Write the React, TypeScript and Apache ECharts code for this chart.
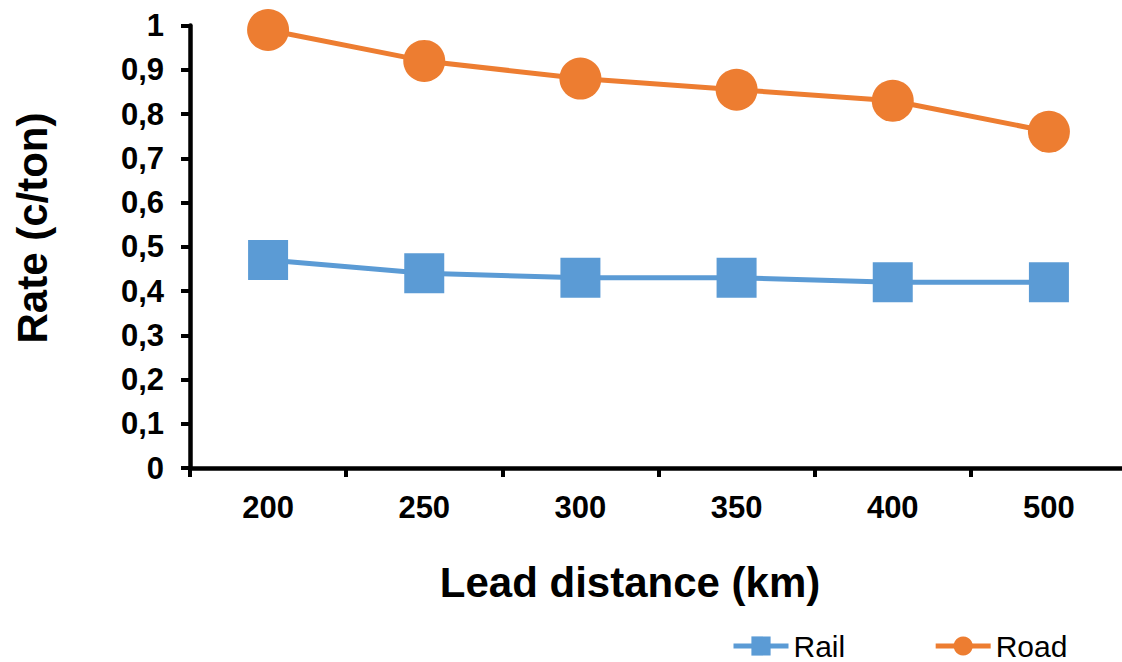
import React, { useEffect, useRef } from "react";
import * as echarts from "echarts";

const categories = ["200", "250", "300", "350", "400", "500"];
const railValues = [0.47, 0.44, 0.43, 0.43, 0.42, 0.42];
const roadValues = [0.99, 0.92, 0.88, 0.855, 0.83, 0.76];
const yTitle = "Rate (c/ton)";
const xTitle = "Lead distance (km)";

const FONT = "'Liberation Sans', Arial, sans-serif";

export default function App() {
  const ref = useRef<HTMLDivElement>(null);
  useEffect(() => {
    document.body.style.margin = "0";
    const chart = echarts.init(ref.current!, null, { renderer: "svg" });
    chart.setOption({
      animation: false,
      backgroundColor: "#ffffff",
      textStyle: { fontFamily: FONT },
      grid: {
        left: 190,
        top: 25.5,
        width: 937,
        height: 442.5,
        containLabel: false,
        outerBoundsMode: "none",
      },
      xAxis: {
        type: "category",
        data: categories,
        boundaryGap: true,
        axisLine: { lineStyle: { color: "#000", width: 4.5 } },
        axisTick: { show: true, length: 9, lineStyle: { color: "#000", width: 4 } },
        axisLabel: { color: "#000", fontSize: 31, fontWeight: "bold", margin: 24, fontFamily: FONT },
        splitLine: { show: false },
      },
      yAxis: {
        type: "value",
        min: 0,
        max: 1,
        interval: 0.1,
        axisLine: { show: true, lineStyle: { color: "#000", width: 4.5 } },
        axisTick: { show: true, length: 9, lineStyle: { color: "#000", width: 4 } },
        axisLabel: {
          color: "#000",
          fontSize: 31,
          fontWeight: "bold",
          margin: 26,
          fontFamily: FONT,
          formatter: (v: number) => String(Math.round(v * 10) / 10).replace(".", ","),
        },
        splitLine: { show: false },
      },
      legend: {
        left: 726,
        top: 626,
        padding: 5,
        itemWidth: 55,
        itemHeight: 24,
        itemGap: 88,
        lineStyle: { width: 5 },
        textStyle: { color: "#000", fontSize: 30, fontFamily: FONT },
        data: ["Rail", "Road"],
      },
      graphic: [
        {
          type: "text",
          x: 32,
          y: 228,
          rotation: Math.PI / 2,
          style: {
            text: yTitle,
            fill: "#000",
            font: `bold 42px ${FONT}`,
            textAlign: "center",
            textVerticalAlign: "middle",
          },
        },
        {
          type: "text",
          x: 630,
          y: 582,
          style: {
            text: xTitle,
            fill: "#000",
            font: `bold 42px ${FONT}`,
            textAlign: "center",
            textVerticalAlign: "middle",
          },
        },
      ],
      series: [
        {
          name: "Rail",
          type: "line",
          data: railValues,
          symbol: "rect",
          symbolSize: 40,
          itemStyle: { color: "#5B9BD5" },
          lineStyle: { color: "#5B9BD5", width: 5 },
        },
        {
          name: "Road",
          type: "line",
          data: roadValues,
          symbol: "circle",
          symbolSize: 42,
          itemStyle: { color: "#ED7D31" },
          lineStyle: { color: "#ED7D31", width: 5 },
        },
      ],
    });
    return () => chart.dispose();
  }, []);
  return <div ref={ref} style={{ width: 1122, height: 662 }} />;
}
